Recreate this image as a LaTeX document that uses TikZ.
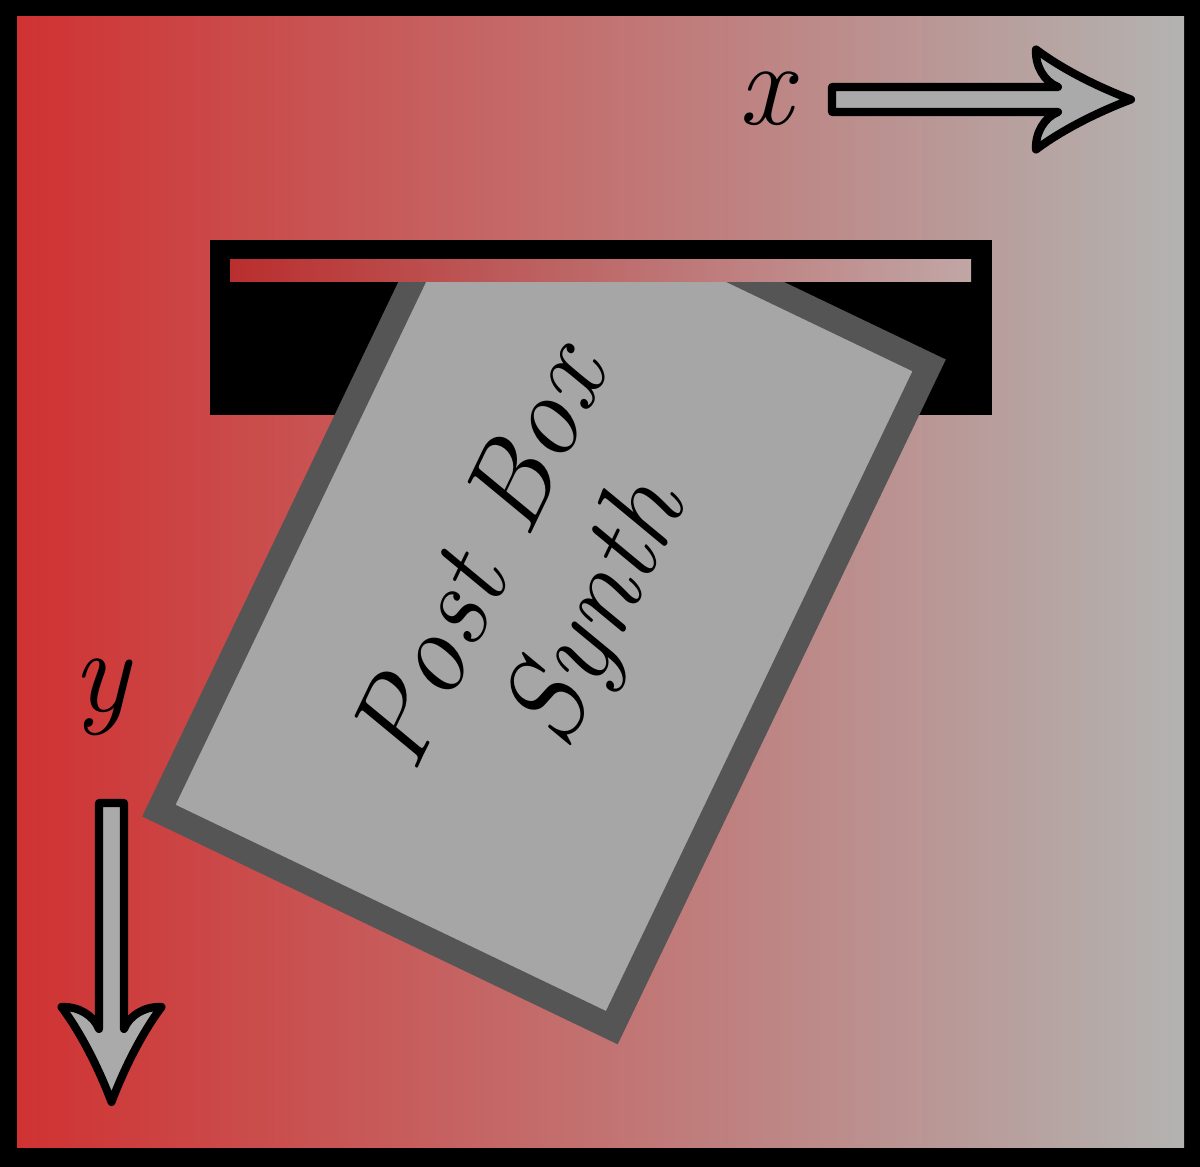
\documentclass[tikz,border=0pt]{standalone}
\usepackage{fontspec}

\definecolor{boxred}{RGB}{208,50,50}
\definecolor{boxgray}{RGB}{179,179,177}
\definecolor{slotred}{RGB}{186,46,46}
\definecolor{slotpink}{RGB}{193,166,166}
\definecolor{cardfill}{RGB}{166,166,166}
\definecolor{cardedge}{RGB}{85,85,85}
\definecolor{arrowfill}{RGB}{170,170,170}

\tikzset{
  letter/.style={draw=cardedge, fill=cardfill, line width=7.1pt,
    minimum width=7.34cm, minimum height=5.02cm, align=center,
    font=\fontsize{33}{36}\selectfont\itshape},
  axislabel/.style={inner sep=0pt, font=\fontsize{34}{34}\selectfont\itshape},
  axisarrow/.pic={
    \draw[black, fill=arrowfill, line width=2.3pt, line join=round]
      (0,-12.5) -- (226,-12.5)
      .. controls (212,-18) and (203,-34) .. (204,-50)
      .. controls (228,-32) and (262,-14) .. (299,0)
      .. controls (262,14) and (228,32) .. (204,50)
      .. controls (203,34) and (212,18) .. (226,12.5)
      -- (0,12.5) -- cycle;
  }
}

\begin{document}
\begin{tikzpicture}[x=0.01cm, y=-0.01cm]

% frame and background
\fill[black] (0,0) rectangle (1200,1167);
\shade[left color=boxred, right color=boxgray] (17,17) rectangle (1184,1147);

% axes
\pic at (832,99.5) {axisarrow};
\node[axislabel] (xlabel) at (765,99) {x};
\pic[rotate=-90] at (111.5,803) {axisarrow};
\node[axislabel] (ylabel) at (101,697) {y};

% slot
\fill[black] (210,240) rectangle (992,415);

% letter going in
\begin{scope}
  \clip (0,272) rectangle (1200,1167);
  \node[letter, rotate=64.4] (card) at (544,588) {Post Box\\Synth};
\end{scope}
\shade[left color=slotred, right color=slotpink] (230,260) rectangle (971,282);

\end{tikzpicture}
\end{document}
